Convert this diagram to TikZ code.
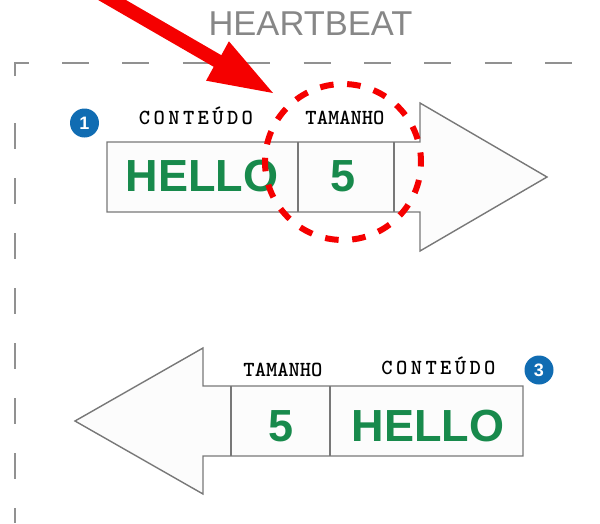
\documentclass[tikz,border=0pt]{standalone}
\usepackage{fontspec}
\usepackage{graphicx}
\setmainfont{Liberation Sans}

\definecolor{framegray}{RGB}{145,145,145}
\definecolor{titlegray}{RGB}{135,135,135}
\definecolor{outline}{RGB}{120,120,120}
\definecolor{cellfill}{RGB}{252,252,252}
\definecolor{valgreen}{RGB}{24,138,76}
\definecolor{badgeblue}{RGB}{16,108,178}
\definecolor{alertred}{RGB}{245,0,0}

% letter-spaced field name
\newcommand{\tracked}[1]{\def\trsep{}\trloop#1\relax}
\def\trloop#1{\ifx#1\relax\else\trsep#1\def\trsep{\kern3.4pt}\expandafter\trloop\fi}

\tikzset{
  frameline/.style={draw=framegray, line width=1.4pt},
  arrowshape/.style={draw=outline, fill=cellfill, line width=1.4pt, line join=miter},
  divider/.style={draw=outline, line width=1.4pt},
  fieldlabel/.style={font=\ttfamily\bfseries\fontsize{21.5}{21.5}\selectfont, inner sep=0pt, anchor=base},
  value/.style={font=\bfseries\fontsize{45}{45}\selectfont, text=valgreen, inner sep=0pt},
  badge/.style={circle, fill=badgeblue, minimum size=29pt, inner sep=0pt, text=white,
    font=\bfseries\fontsize{18}{18}\selectfont},
  title/.style={font=\fontsize{34.5}{34.5}\selectfont, text=titlegray, inner sep=0pt},
  focusring/.style={circle, draw=alertred, line width=6pt, minimum size=156pt, inner sep=0pt,
    dash pattern=on 13.6pt off 13.6pt, dash phase=4pt},
  pointer/.style={fill=alertred, draw=none},
}

\begin{document}
\begin{tikzpicture}[x=1pt, y=-1pt]
  \useasboundingbox (0,0) rectangle (600,523);

  % title
  \node[title] (heading) at (310.5,24) {HEARTBEAT};

  % dashed frame: corner, top edge and left edge
  \draw[frameline] (15,76) -- (15,63) -- (29,63);
  \draw[frameline, dash pattern=on 27pt off 33.4pt] (62,63) -- (600,63);
  \draw[frameline, dash pattern=on 26pt off 29pt] (15,123) -- (15,523);

  % outgoing message: body with cells, head pointing right
  \draw[arrowshape] (107,142) -- (420,142) -- (420,103) -- (547,177)
    -- (420,251) -- (420,212) -- (107,212) -- cycle;
  \draw[divider] (298,142) -- (298,212);
  \draw[divider] (394,142) -- (394,212);
  \node[value] (helloA) at (202,176.5) {HELLO};
  \node[value] (sizeA) at (343,176.5) {5};
  \node[fieldlabel] (contentA) at (196,124) {\tracked{CONTEÚDO}};
  \node[fieldlabel] (lenA) at (345,124) {\scalebox{1.0}[1]{TAMANHO}};
  \node[badge] (stepA) at (84.5,123) {1};

  % incoming message: head pointing left, body with cells
  \draw[arrowshape] (523,386) -- (203,386) -- (203,348) -- (75,421)
    -- (203,494) -- (203,456) -- (523,456) -- cycle;
  \draw[divider] (231,386) -- (231,456);
  \draw[divider] (330,386) -- (330,456);
  \node[value] (sizeB) at (281,426.5) {5};
  \node[value] (helloB) at (428,426.5) {HELLO};
  \node[fieldlabel] (lenB) at (283,376) {\scalebox{1.0}[1]{TAMANHO}};
  \node[fieldlabel] (contentB) at (438.5,374.5) {\tracked{CONTEÚDO}};
  \node[badge] (stepB) at (539,370) {3};

  % highlight ring around the size field
  \node[focusring] (focus) at (343,162) {};

  % red pointer aimed at the ring
  \fill[pointer] (81.4,-25.8) -- (221.3,55.2) -- (228.9,41.3) -- (273,93)
    -- (206.1,80.7) -- (213.7,66.8) -- (73.6,-14.2) -- cycle;
\end{tikzpicture}
\end{document}
